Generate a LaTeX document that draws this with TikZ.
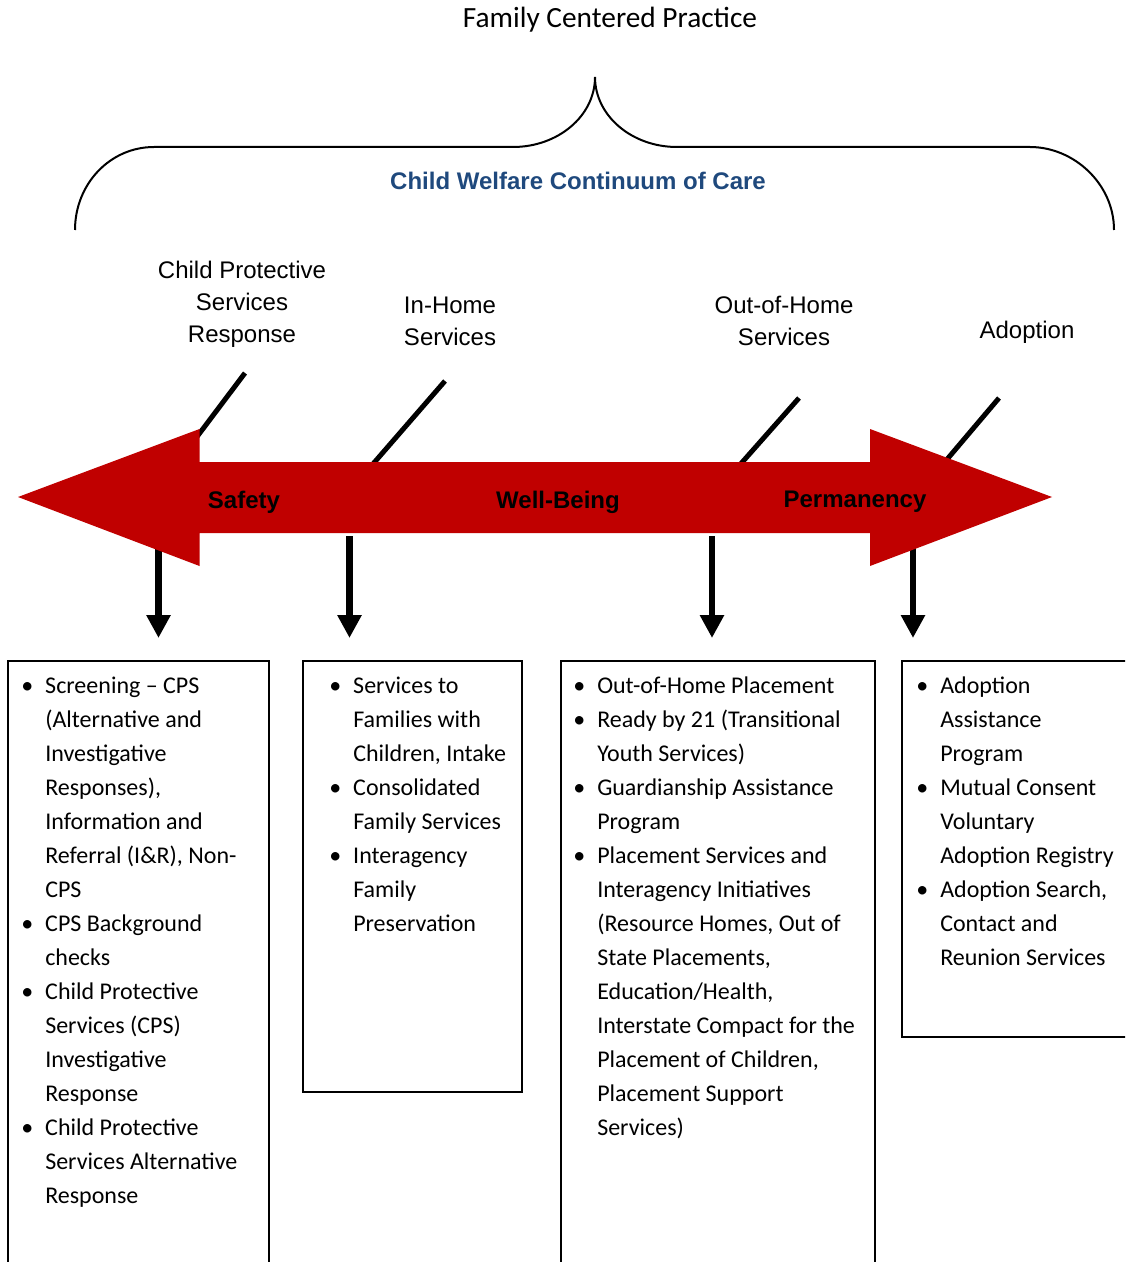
\documentclass[tikz,border=0pt]{standalone}
\usepackage{fontspec}
\setmainfont{Carlito}
\newfontfamily\arialf{Liberation Sans}
\usetikzlibrary{arrows.meta}
\definecolor{arrred}{RGB}{192,0,0}
\definecolor{cwblue}{RGB}{31,73,125}
\newcommand\bl{\llap{\makebox[0pt][c]{\textbullet}\hspace{13.5pt}}}
\begin{document}
\begin{tikzpicture}[x=0.75pt,y=-0.75pt,
  hdr/.style={font=\arialf\fontsize{18}{24}\selectfont, align=center, inner sep=0pt},
  onarrow/.style={font=\arialf\bfseries\fontsize{18}{22}\selectfont, inner sep=0pt},
  slant/.style={line width=3.75pt},
  down/.style={line width=5pt, -{Triangle[width=17.25pt,length=17.25pt]}},
  svcbox/.style={draw, line width=1.5pt},
  svctext/.style={font=\fontsize{18}{25.5}\selectfont, align=left, anchor=north west, inner sep=0pt}]
\useasboundingbox (0,0) rectangle (1125,1262);
\clip (0,0) rectangle (1125,1262);

% title
\node[font=\fontsize{22}{26}\selectfont, inner sep=0pt] (title) at (610,20) {Family Centered Practice};

% brace
\draw[line width=1.5pt] (75,230) .. controls (75,184) and (110,147) .. (154,147)
  -- (513,147) .. controls (558,147) and (595,116) .. (595,77)
  .. controls (595,116) and (632,147) .. (677,147)
  -- (1030,147) .. controls (1074,147) and (1114,184) .. (1114,230);

\node[font=\arialf\bfseries\fontsize{18}{22}\selectfont, text=cwblue, inner sep=0pt] (cw) at (578,181) {Child Welfare Continuum of Care};

% headers
\node[hdr] (h1) at (242,304) {Child Protective\\Services\\Response};
\node[hdr] (h2) at (450,321) {In-Home\\Services};
\node[hdr] (h3) at (784,321) {Out-of-Home\\Services};
\node[hdr] (h4) at (1027,332) {Adoption};

% slanted connectors
\coordinate (s1a) at (245,373); \coordinate (s1b) at (190,446);
\coordinate (s2a) at (445,381); \coordinate (s2b) at (366,472);
\coordinate (s3a) at (799,398); \coordinate (s3b) at (730,476);
\coordinate (s4a) at (999,398); \coordinate (s4b) at (938,470);
\draw[slant] (s1a) -- (s1b);
\draw[slant] (s2a) -- (s2b);
\draw[slant] (s3a) -- (s3b);
\draw[slant] (s4a) -- (s4b);

% down arrows
\coordinate (d1a) at (158.5,540); \coordinate (d1b) at (158.5,638);
\coordinate (d2a) at (349.5,536); \coordinate (d2b) at (349.5,638);
\coordinate (d3a) at (712,536);   \coordinate (d3b) at (712,638);
\coordinate (d4a) at (913,540);   \coordinate (d4b) at (913,638);
\draw[down] (d1a) -- (d1b);
\draw[down] (d2a) -- (d2b);
\draw[down] (d3a) -- (d3b);
\draw[down] (d4a) -- (d4b);

% big double arrow
\fill[arrred] (18,497) -- (199.5,429) -- (199.5,462) -- (870,462) -- (870,429)
  -- (1052,497) -- (870,566) -- (870,533) -- (199.5,533) -- (199.5,566) -- cycle;
\node[onarrow] (safety) at (244,502) {Safety};
\node[onarrow] (well) at (558,502) {Well-Being};
\node[onarrow] (perm) at (855,502) {Permanency};

% boxes
\draw[svcbox] (8,1300) -- (8,661) -- (269,661) -- (269,1300);
\draw[svcbox] (303,661) rectangle (522,1092);
\draw[svcbox] (561,1300) -- (561,661) -- (875,661) -- (875,1300);
\draw[svcbox] (1140,661) -- (902,661) -- (902,1037) -- (1140,1037);

\node[svctext] (t1) at (45,669) {\strut\bl Screening – CPS\\(Alternative and\\Investigative\\Responses),\\Information and\\Referral (I\&R), Non-\\CPS\\
\bl CPS Background\\checks\\
\bl Child Protective\\Services (CPS)\\Investigative\\Response\\
\bl Child Protective\\Services Alternative\\Response};

\node[svctext] (t2) at (353,669) {\strut\bl Services to\\Families with\\Children, Intake\\
\bl Consolidated\\Family Services\\
\bl Interagency\\Family\\Preservation};

\node[svctext] (t3) at (597,669) {\strut\bl Out-of-Home Placement\\
\bl Ready by 21 (Transitional\\Youth Services)\\
\bl Guardianship Assistance\\Program\\
\bl Placement Services and\\Interagency Initiatives\\(Resource Homes, Out of\\State Placements,\\Education/Health,\\Interstate Compact for the\\Placement of Children,\\Placement Support\\Services)};

\node[svctext] (t4) at (940,669) {\strut\bl Adoption\\Assistance\\Program\\
\bl Mutual Consent\\Voluntary\\Adoption Registry\\
\bl Adoption Search,\\Contact and\\Reunion Services};
\end{tikzpicture}
\end{document}
